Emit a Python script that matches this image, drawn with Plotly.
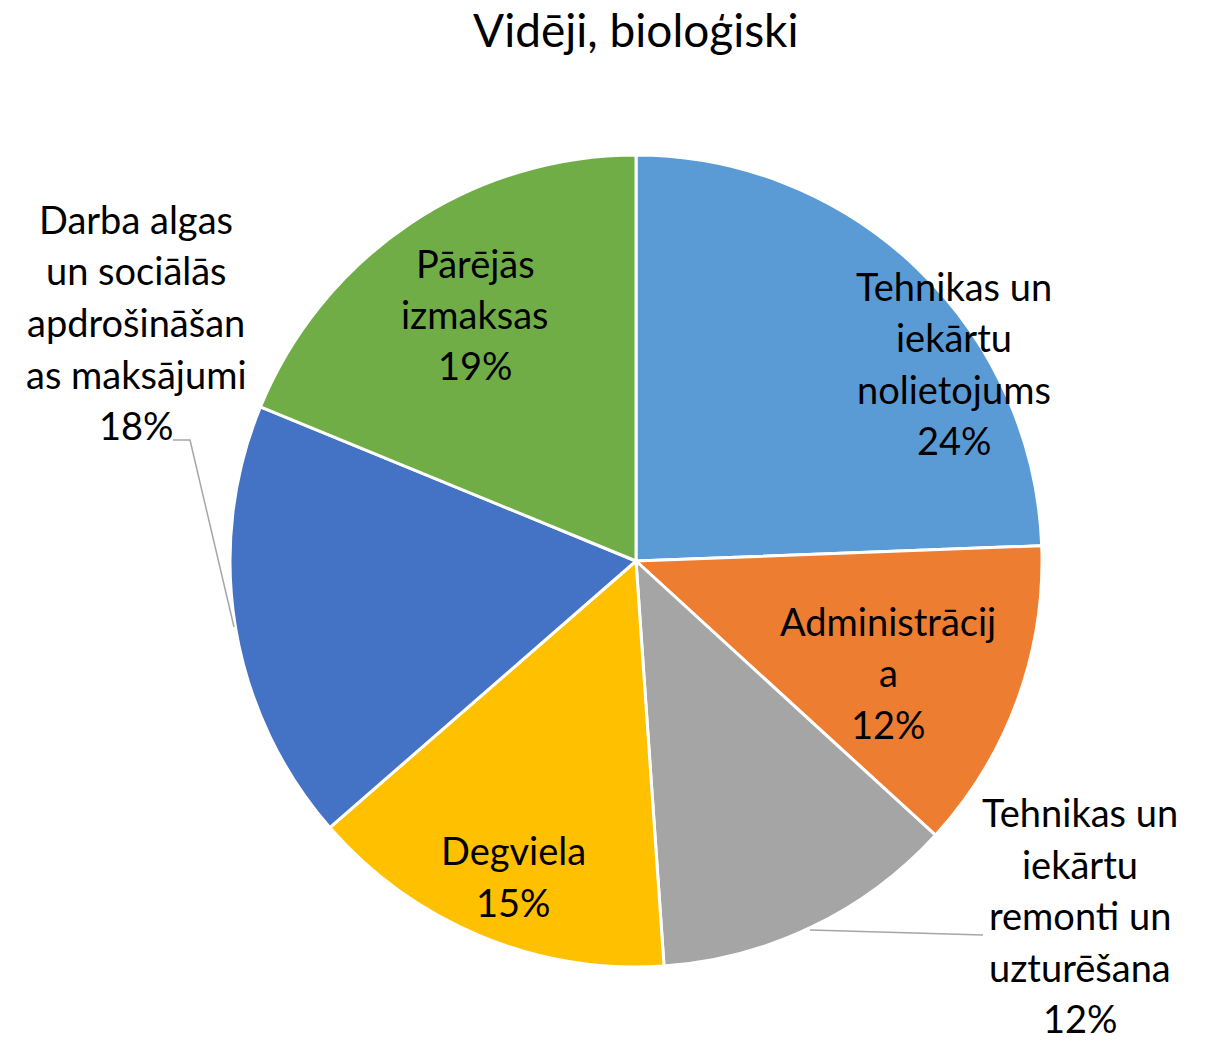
import plotly.graph_objects as go

W, H = 1209, 1043

title_text = "Vidēji, bioloģiski"
categories = [
    "Tehnikas un iekārtu nolietojums",
    "Administrācija",
    "Tehnikas un iekārtu remonti un uzturēšana",
    "Degviela",
    "Darba algas un sociālās apdrošināšanas maksājumi",
    "Pārējās izmaksas",
]
values = [24.4, 12.4, 12.1, 14.7, 17.6, 18.8]
colors = ["#5B9BD5", "#ED7D31", "#A5A5A5", "#FFC000", "#4472C4", "#70AD47"]
# wrapped label lines as shown in the chart
label_lines = [
    ["Tehnikas un", "iekārtu", "nolietojums"],
    ["Administrācij", "a"],
    ["Tehnikas un", "iekārtu", "remonti un", "uzturēšana"],
    ["Degviela"],
    ["Darba algas", "un sociālās", "apdrošināšan", "as maksājumi"],
    ["Pārējās", "izmaksas"],
]
# label block centres (pixels)
label_pos = [(954, 363), (888, 672), (1080, 915), (513, 876), (136, 322), (475, 314)]
LINE_H = 51.5
FONT = "Lato, Open Sans, sans-serif"
FS = 38

def px(x):
    return x / W

def py(y):
    return 1 - y / H

cx, cy, r = 636, 561, 406

fig = go.Figure(go.Pie(
    labels=categories,
    values=values,
    sort=False,
    direction="clockwise",
    rotation=0,
    textinfo="none",
    hoverinfo="label+percent",
    marker=dict(colors=colors, line=dict(color="white", width=3)),
    domain=dict(x=[px(cx - r), px(cx + r)], y=[py(cy + r), py(cy - r)]),
    showlegend=False,
))

total = sum(values)
annotations = []
for lines, v, (lx, ly) in zip(label_lines, values, label_pos):
    all_lines = lines + [f"{round(v / total * 100)}%"]
    n = len(all_lines)
    for i, t in enumerate(all_lines):
        yy = ly + (i - (n - 1) / 2) * LINE_H
        annotations.append(dict(
            x=px(lx), y=py(yy), xref="paper", yref="paper",
            text=t, showarrow=False, xanchor="center", yanchor="middle",
            font=dict(family=FONT, size=FS, color="#000000"),
        ))

annotations.append(dict(
    x=px(636), y=py(30), xref="paper", yref="paper", text=title_text,
    showarrow=False, xanchor="center", yanchor="middle",
    font=dict(family=FONT, size=46, color="#000000"),
))

line_style = dict(color="#A6A6A6", width=1.5)
shapes = [
    dict(type="path", xref="paper", yref="paper",
         path=f"M {px(173)},{py(440)} L {px(190)},{py(440)} L {px(234)},{py(627)}",
         line=line_style),
    dict(type="line", xref="paper", yref="paper",
         x0=px(810), y0=py(930), x1=px(983), y1=py(935), line=line_style),
]

fig.update_layout(
    width=W, height=H,
    margin=dict(l=0, r=0, t=0, b=0),
    paper_bgcolor="white", plot_bgcolor="white",
    annotations=annotations, shapes=shapes,
)
fig.write_html("out.html", config={"displayModeBar": False},
               post_script="document.body.style.margin='0';document.body.style.overflow='hidden';")
